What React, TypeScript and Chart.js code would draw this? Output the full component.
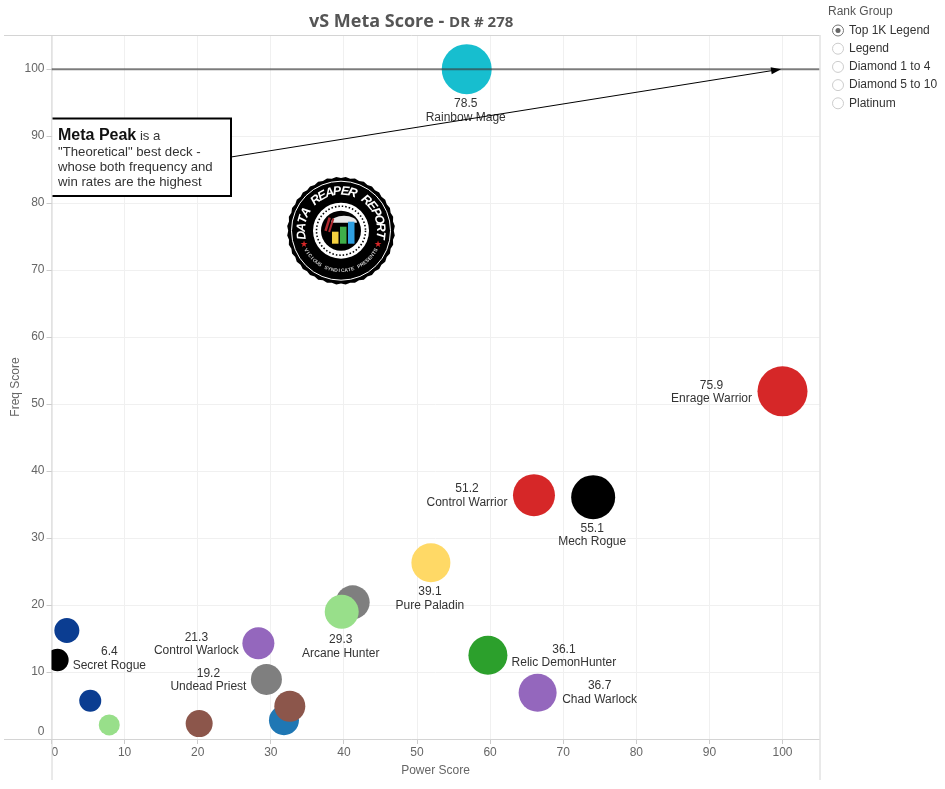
import React, { useEffect, useRef } from "react";
import { Chart, registerables } from "chart.js";

Chart.register(...registerables);

const chartTitle = "vS Meta Score";
const chartSubtitle = "DR # 278";
const xAxisTitle = "Power Score";
const yAxisTitle = "Freq Score";
const xTicks = [0, 10, 20, 30, 40, 50, 60, 70, 80, 90, 100];
const yTicks = [0, 10, 20, 30, 40, 50, 60, 70, 80, 90, 100];
const metaPeak = 100;

const deckNames = ["Rainbow Mage", "Enrage Warrior", "Control Warrior", "Mech Rogue", "Pure Paladin", "", "Arcane Hunter", "Relic DemonHunter", "Chad Warlock", "Control Warlock", "Undead Priest", "", "", "", "", "", "", "Secret Rogue"];
const metaScores = ["78.5", "75.9", "51.2", "55.1", "39.1", "", "29.3", "36.1", "36.7", "21.3", "19.2", "", "", "", "", "", "", "6.4"];
const powerScores = [56.8, 100, 66, 74.1, 51.9, 41.2, 39.7, 59.7, 66.5, 28.3, 29.4, 31.8, 32.6, 20.2, 7.9, 5.3, 2.1, 0.8];
const freqScores = [100, 51.9, 36.4, 36.1, 26.3, 20.4, 19, 12.5, 6.9, 14.3, 8.9, 2.8, 4.9, 2.3, 2.1, 5.7, 16.2, 11.8];
const bubbleSizes = [25, 25, 21, 22, 19.5, 17, 17, 19.5, 19, 16, 15.5, 15, 15.5, 13.5, 10.5, 11, 12.5, 11.3];
const bubbleColors = ["#17becf", "#d62728", "#d62728", "#000000", "#ffd966", "#7f7f7f", "#98df8a", "#2ca02c", "#9467bd", "#9467bd", "#7f7f7f", "#1f77b4", "#8c564b", "#8c564b", "#98df8a", "#0b3d91", "#0b3d91", "#000000"];
// label centre offset from the bubble centre, in pixels
const labelOffsets: number[][] = [[-1, 35], [-71, -6], [-67, -6], [-1, 31], [-1, 29], [0, 0], [-1, 28], [76, -6], [62, -7], [-62, -6], [-58, -6], [0, 0], [0, 0], [0, 0], [0, 0], [0, 0], [0, 0], [52, -8]];

const rankGroupTitle = "Rank Group";
const rankGroups = ["Top 1K Legend", "Legend", "Diamond 1 to 4", "Diamond 5 to 10", "Platinum"];
const peakNoteHead = "Meta Peak";
const peakNoteHeadTail = " is a";
const peakNoteLines = ['"Theoretical" best deck -', "whose both frequency and", "win rates are the highest"];

const SANS = '"Liberation Sans", Arial, sans-serif';

function arcText(ctx: CanvasRenderingContext2D, text: string, cx: number, cy: number, r: number, midAngle: number, spacing: number, inward: boolean) {
  const chars = [...text];
  const start = midAngle - (inward ? 1 : -1) * (spacing * (chars.length - 1)) / 2;
  chars.forEach((c, i) => {
    const a = start + (inward ? 1 : -1) * i * spacing;
    ctx.save();
    ctx.translate(cx + r * Math.cos(a), cy + r * Math.sin(a));
    ctx.rotate(a + (inward ? Math.PI / 2 : -Math.PI / 2));
    ctx.fillText(c, 0, 0);
    ctx.restore();
  });
}

function drawLogo(ctx: CanvasRenderingContext2D, cx: number, cy: number) {
  ctx.save();
  ctx.fillStyle = "#000";
  ctx.beginPath();
  for (let i = 0; i < 72; i++) {
    const a = (i / 72) * Math.PI * 2;
    const r = i % 2 ? 54 : 52.8;
    ctx.lineTo(cx + r * Math.cos(a), cy + r * Math.sin(a));
  }
  ctx.closePath();
  ctx.fill();
  ctx.strokeStyle = "#fff";
  ctx.lineWidth = 1;
  ctx.beginPath();
  ctx.arc(cx, cy, 49.5, 0, Math.PI * 2);
  ctx.stroke();
  ctx.fillStyle = "#fff";
  ctx.textAlign = "center";
  ctx.textBaseline = "middle";
  ctx.font = `italic bold 12.5px ${SANS}`;
  arcText(ctx, "DATA REAPER REPORT", cx, cy, 39.5, -Math.PI / 2, 0.198, true);
  ctx.font = `bold 5px ${SANS}`;
  ctx.fillStyle = "#ccc";
  arcText(ctx, "VICIOUS SYNDICATE PRESENTS", cx, cy, 40, Math.PI / 2, 0.085, false);
  ctx.fillStyle = "#d62728";
  ctx.font = `bold 9px "DejaVu Sans", sans-serif`;
  ctx.fillText("\u2605", cx - 37, cy + 14);
  ctx.fillText("\u2605", cx + 37, cy + 14);
  ctx.fillStyle = "#fff";
  ctx.beginPath();
  ctx.arc(cx, cy, 28, 0, Math.PI * 2);
  ctx.fill();
  ctx.strokeStyle = "#000";
  ctx.lineWidth = 1.6;
  ctx.setLineDash([1.5, 2]);
  ctx.beginPath();
  ctx.arc(cx, cy, 24.5, 0, Math.PI * 2);
  ctx.stroke();
  ctx.setLineDash([]);
  ctx.fillStyle = "#000";
  ctx.beginPath();
  ctx.arc(cx, cy, 20, 0, Math.PI * 2);
  ctx.fill();
  ctx.fillStyle = "#e8e8e8";
  ctx.beginPath();
  ctx.ellipse(cx + 3, cy - 8, 13, 7, 0, Math.PI, Math.PI * 2);
  ctx.fill();
  ctx.fillStyle = "#b02a30";
  ctx.save();
  ctx.translate(cx - 12, cy - 5);
  ctx.rotate(0.3);
  ctx.fillRect(-3, -8, 2.5, 14);
  ctx.fillRect(1, -8, 2, 14);
  ctx.restore();
  ctx.fillStyle = "#f4d03f";
  ctx.fillRect(cx - 9, cy + 1, 6.5, 12);
  ctx.fillStyle = "#3fae49";
  ctx.fillRect(cx - 1, cy - 4, 6.5, 17);
  ctx.fillStyle = "#2f9fe0";
  ctx.fillRect(cx + 7, cy - 9, 6.5, 22);
  ctx.restore();
}

const annotations = {
  id: "annotations",
  beforeDatasetsDraw(chart: any) {
    const ctx: CanvasRenderingContext2D = chart.ctx;
    const { left, right, top, bottom } = chart.chartArea;
    ctx.save();
    ctx.strokeStyle = "#d4d4d4";
    ctx.lineWidth = 1;
    ctx.beginPath();
    ctx.moveTo(4, top + 0.5);
    ctx.lineTo(right, top + 0.5);
    ctx.moveTo(4, bottom + 0.5);
    ctx.lineTo(right, bottom + 0.5);
    ctx.moveTo(left + 0.5, top);
    ctx.lineTo(left + 0.5, 780);
    ctx.moveTo(right + 0.5, top);
    ctx.lineTo(right + 0.5, 780);
    ctx.stroke();
    ctx.restore();
    drawLogo(ctx, 341, 230.7);
  },
  afterDatasetsDraw(chart: any) {
    const ctx: CanvasRenderingContext2D = chart.ctx;
    const xs = chart.scales.x;
    const ys = chart.scales.y;
    const { left } = chart.chartArea;
    ctx.save();
    // deck labels
    ctx.font = `12px ${SANS}`;
    ctx.fillStyle = "#333";
    ctx.textAlign = "center";
    ctx.textBaseline = "middle";
    chart.getDatasetMeta(1).data.forEach((el: any, i: number) => {
      if (!deckNames[i]) return;
      const [dx, dy] = labelOffsets[i];
      ctx.fillText(metaScores[i], el.x + dx, el.y + dy);
      ctx.fillText(deckNames[i], el.x + dx, el.y + dy + 13.5);
    });
    // arrow from the note to the peak
    const tipX = xs.getPixelForValue(99.8);
    const tipY = ys.getPixelForValue(metaPeak);
    const fromX = 231;
    const fromY = 157;
    const ang = Math.atan2(tipY - fromY, tipX - fromX);
    ctx.strokeStyle = "#000";
    ctx.fillStyle = "#000";
    ctx.lineWidth = 1;
    ctx.beginPath();
    ctx.moveTo(fromX, fromY);
    ctx.lineTo(tipX - 8 * Math.cos(ang), tipY - 8 * Math.sin(ang));
    ctx.stroke();
    ctx.beginPath();
    ctx.moveTo(tipX, tipY);
    ctx.lineTo(tipX - 10 * Math.cos(ang) + 3.5 * Math.sin(ang), tipY - 10 * Math.sin(ang) - 3.5 * Math.cos(ang));
    ctx.lineTo(tipX - 10 * Math.cos(ang) - 3.5 * Math.sin(ang), tipY - 10 * Math.sin(ang) + 3.5 * Math.cos(ang));
    ctx.closePath();
    ctx.fill();
    // note box
    ctx.fillStyle = "#fff";
    ctx.fillRect(left + 1, 118, 179, 78);
    ctx.strokeStyle = "#000";
    ctx.lineWidth = 2;
    ctx.beginPath();
    ctx.moveTo(left + 1, 118.5);
    ctx.lineTo(231, 118.5);
    ctx.lineTo(231, 196);
    ctx.lineTo(left + 1, 196);
    ctx.stroke();
    ctx.textAlign = "left";
    ctx.textBaseline = "alphabetic";
    ctx.fillStyle = "#111";
    ctx.font = `bold 16px ${SANS}`;
    ctx.fillText(peakNoteHead, 58, 140);
    const headW = ctx.measureText(peakNoteHead).width;
    ctx.fillStyle = "#333";
    ctx.font = `13.2px ${SANS}`;
    ctx.fillText(peakNoteHeadTail, 58 + headW, 140);
    peakNoteLines.forEach((t, i) => ctx.fillText(t, 58, 156 + i * 15));
    // title
    ctx.fillStyle = "#555";
    ctx.textBaseline = "alphabetic";
    ctx.font = 'bold 18px "Open Sans", sans-serif';
    ctx.fillText(chartTitle + " - ", 309, 26.5);
    const tw = ctx.measureText(chartTitle + " - ").width;
    ctx.font = 'bold 15px "Open Sans", sans-serif';
    ctx.fillText(chartSubtitle, 309 + tw, 26.5);
    // rank group selector
    ctx.font = `12px ${SANS}`;
    ctx.fillStyle = "#555";
    ctx.textBaseline = "middle";
    ctx.fillText(rankGroupTitle, 828, 12);
    rankGroups.forEach((g, i) => {
      const cy = 30.5 + i * 18.2;
      ctx.beginPath();
      ctx.arc(838, cy, 5.5, 0, Math.PI * 2);
      ctx.fillStyle = "#fff";
      ctx.fill();
      ctx.lineWidth = 1;
      ctx.strokeStyle = i === 0 ? "#777" : "#ccc";
      ctx.stroke();
      if (i === 0) {
        ctx.beginPath();
        ctx.arc(838, cy, 2.5, 0, Math.PI * 2);
        ctx.fillStyle = "#666";
        ctx.fill();
      }
      ctx.fillStyle = "#333";
      ctx.fillText(g, 849, cy);
    });
    ctx.restore();
  },
};

export default function App() {
  const ref = useRef<HTMLCanvasElement>(null);
  useEffect(() => {
    const chart = new Chart(ref.current!, {
      type: "bubble",
      data: {
        datasets: [
          {
            type: "scatter",
            label: "Meta Peak",
            data: [{ x: 0, y: metaPeak }, { x: 105.06, y: metaPeak }],
            showLine: true,
            borderColor: "rgba(60,60,60,0.65)",
            borderWidth: 2,
            pointRadius: 0,
            order: 0,
          } as any,
          {
            label: "Decks",
            data: powerScores.map((x, i) => ({ x, y: freqScores[i], r: bubbleSizes[i] })),
            backgroundColor: bubbleColors,
            borderWidth: 0,
            order: 1,
          } as any,
        ],
      },
      options: {
        animation: false,
        responsive: false,
        devicePixelRatio: 1,
        layout: { padding: { top: 35, right: 125.5, bottom: 11, left: 4 } },
        plugins: { legend: { display: false }, title: { display: false }, tooltip: { enabled: false } },
        scales: {
          x: {
            type: "linear",
            min: 0,
            max: 105.06,
            afterBuildTicks: (s: any) => { s.ticks = xTicks.map((value) => ({ value })); },
            afterFit: (s: any) => { s.height = 39; },
            grid: { color: "#f0f0f0", tickColor: "#ccc", tickLength: 5 },
            border: { display: false },
            title: { display: true, text: xAxisTitle, color: "#666", font: { family: SANS, size: 12 }, padding: 0 },
            ticks: {
              color: "#666",
              font: { family: SANS, size: 12 },
              padding: 1,
              maxRotation: 0,
              autoSkip: false,
              callback: (v: any) => (v === 0 ? "\u00a0\u00a00" : String(v)),
            },
          },
          y: {
            type: "linear",
            min: 0,
            max: 105.1,
            afterBuildTicks: (s: any) => { s.ticks = yTicks.map((value) => ({ value })); },
            afterFit: (s: any) => { s.width = 47.5; },
            grid: { color: "#f0f0f0", tickColor: "#ccc", tickLength: 5 },
            border: { display: false },
            title: { display: true, text: yAxisTitle, color: "#666", font: { family: SANS, size: 12 }, padding: 4 },
            ticks: {
              color: "#666",
              font: { family: SANS, size: 12 },
              padding: 2,
              autoSkip: false,
              callback: (v: any) => (v === 0 ? ["0", ""] : String(v)),
            },
          },
        },
      },
      plugins: [annotations],
    } as any);
    return () => chart.destroy();
  }, []);
  return (
    <div style={{ position: "absolute", left: 0, top: 0, width: 945, height: 789 }}>
      <canvas ref={ref} width={945} height={789} style={{ display: "block" }} />
    </div>
  );
}
